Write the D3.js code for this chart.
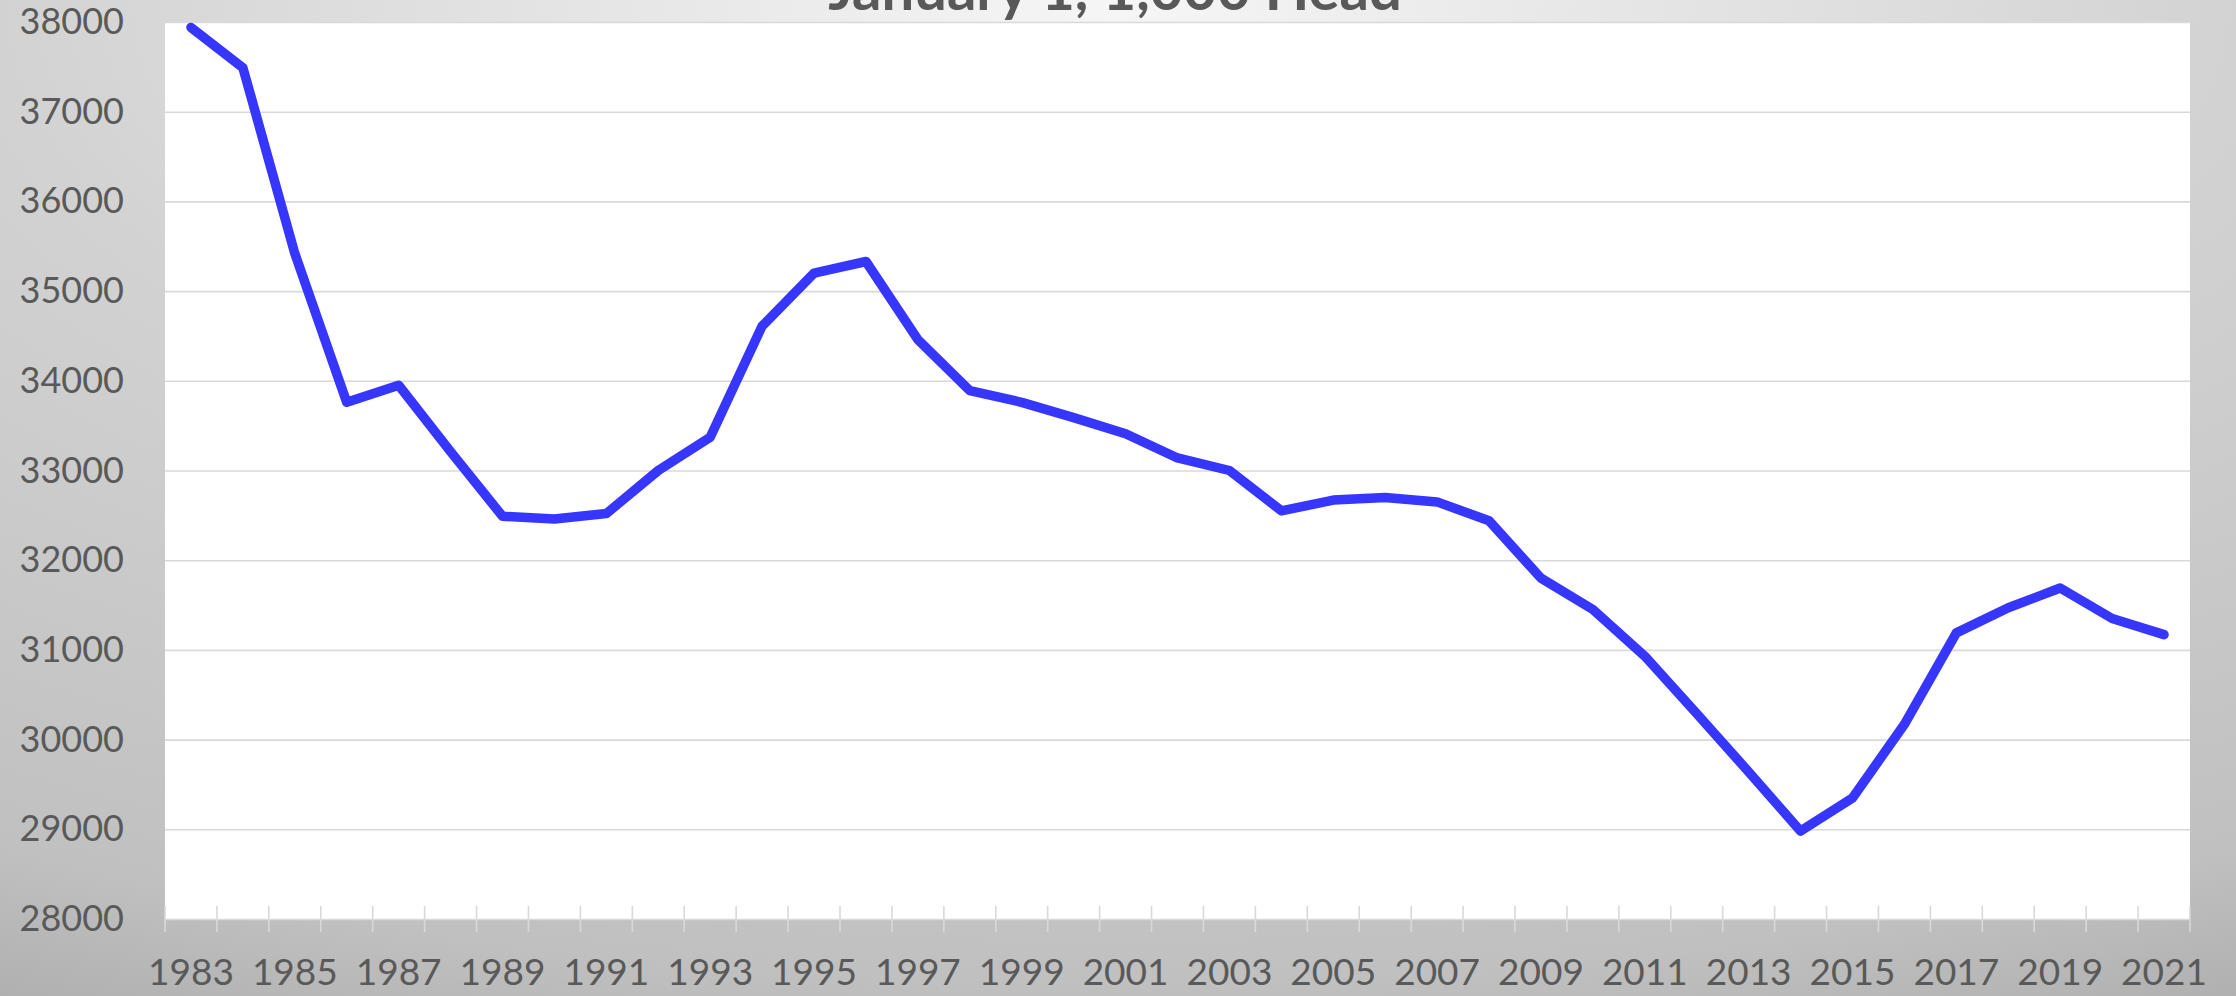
<!DOCTYPE html>
<html>
<head>
<meta charset="utf-8">
<script src="https://cdn.jsdelivr.net/npm/d3@7"></script>
<style>
  html, body { margin: 0; padding: 0; overflow: hidden; }
  svg { display: block; }
  text { font-family: Lato, "Open Sans", sans-serif; }
</style>
</head>
<body>
<svg id="chart"></svg>
<script>

// January 1 inventory, 1,000 head
var years = ['1983','1984','1985','1986','1987','1988','1989','1990','1991','1992',
             '1993','1994','1995','1996','1997','1998','1999','2000','2001','2002',
             '2003','2004','2005','2006','2007','2008','2009','2010','2011','2012',
             '2013','2014','2015','2016','2017','2018','2019','2020','2021'];

var head = [37940, 37490, 35420, 33760, 33950, 33210, 32490, 32460, 32520, 33000,
            33370, 34610, 35200, 35330, 34460, 33890, 33760, 33590, 33410, 33140,
            33000, 32550, 32670, 32700, 32650, 32440, 31800, 31450, 30930, 30290,
            29640, 28980, 29350, 30170, 31190, 31470, 31690, 31350, 31170];

var yTicks = [28000, 29000, 30000, 31000, 32000, 33000, 34000, 35000, 36000, 37000, 38000];

var xLabels = ['1983','1985','1987','1989','1991','1993','1995','1997','1999','2001',
               '2003','2005','2007','2009','2011','2013','2015','2017','2019','2021'];

var titleText = 'January 1, 1,000 Head';


window.onload = function(){

  var W = 2236, H = 996;
  var left = 165, right = 2190, top = 22, bottom = 919;

  var svg = d3.select('#chart')
              .attr('width', W)
              .attr('height', H);

  // grey slide-style background, light at top centre
  var grad = svg.append('defs')
                .append('radialGradient')
                  .attr('id', 'bg')
                  .attr('cx', 0.5).attr('cy', 0).attr('r', 1.12)
                  .attr('fx', 0.5).attr('fy', 0);
  grad.append('stop').attr('offset', 0).attr('stop-color', '#f6f6f6');
  grad.append('stop').attr('offset', 0.45).attr('stop-color', '#d2d2d2');
  grad.append('stop').attr('offset', 0.88).attr('stop-color', '#c0c0c0');
  grad.append('stop').attr('offset', 1).attr('stop-color', '#b0b0b0');

  svg.append('rect')
     .attr('width', W).attr('height', H)
     .attr('fill', 'url(#bg)');

  var x = d3.scaleBand().domain(years).range([left, right]);
  var y = d3.scaleLinear().domain([28000, 38000]).range([bottom, top]);

  // plot area
  svg.append('rect')
     .attr('x', left).attr('y', top)
     .attr('width', right - left).attr('height', bottom - top)
     .attr('fill', '#ffffff');

  // title (top line runs off the page, as in the slide)
  svg.append('text')
     .attr('x', 1115).attr('y', 10)
     .attr('text-anchor', 'middle')
     .style('font-size', '58px')
     .style('font-weight', 'bold')
     .style('fill', '#595959')
     .text(titleText);

  // y axis with gridlines
  var yAxis = svg.append('g')
                 .attr('transform', 'translate(' + left + ',0)')
                 .call(d3.axisLeft(y)
                         .tickValues(yTicks)
                         .tickSize(-(right - left))
                         .tickPadding(41)
                         .tickFormat(d3.format('d')));
  yAxis.select('.domain').remove();
  yAxis.selectAll('.tick line')
       .attr('stroke', '#d9d9d9')
       .attr('stroke-width', 1.6);
  yAxis.selectAll('.tick text')
       .style('font-size', '36px')
       .style('fill', '#595959');

  // category ticks sit between the years
  var edges = years.map(function(d){ return x(d); }).concat([x.range()[1]]);
  svg.append('g')
     .selectAll('line')
     .data(edges)
     .enter()
     .append('line')
       .attr('x1', function(d){ return d; })
       .attr('x2', function(d){ return d; })
       .attr('y1', bottom - 13)
       .attr('y2', bottom + 13)
       .attr('stroke', '#d9d9d9')
       .attr('stroke-width', 1.6);

  // x labels, every other year
  var xAxis = svg.append('g')
                 .attr('transform', 'translate(0,' + bottom + ')')
                 .call(d3.axisBottom(x)
                         .tickValues(xLabels)
                         .tickSize(0)
                         .tickPadding(40));
  xAxis.select('.domain').remove();
  xAxis.selectAll('.tick text')
       .style('font-size', '37px')
       .style('fill', '#595959');

  // the series
  var line = d3.line()
               .x(function(d, i){ return x(years[i]) + x.bandwidth() / 2; })
               .y(function(d){ return y(d); });

  svg.append('path')
     .datum(head)
     .attr('d', line)
     .attr('fill', 'none')
     .attr('stroke', '#3636ff')
     .attr('stroke-width', 9.5)
     .attr('stroke-linecap', 'round')
     .attr('stroke-linejoin', 'round');
};

</script>
</body>
</html>
